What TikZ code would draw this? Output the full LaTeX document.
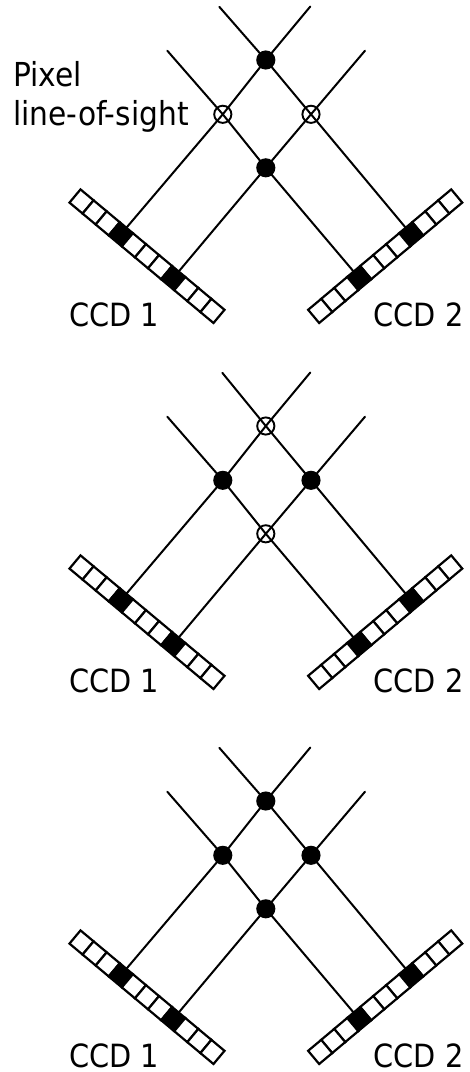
\documentclass[tikz,border=0pt]{standalone}
\usepackage{fontspec}
\setmainfont{DejaVu Sans Condensed}
\tikzset{
  cell/.style={draw=black,line width=2.2pt,fill=white,minimum width=17.06pt,minimum height=17.2pt,inner sep=0pt,outer sep=0pt},
  dark/.style={cell,fill=black},
  full/.style={circle,draw=black,fill=black,line width=1.9pt,minimum size=17.2pt,inner sep=0pt,outer sep=0pt},
  hollow/.style={circle,draw=black,line width=1.9pt,minimum size=17.2pt,inner sep=0pt,outer sep=0pt},
  sight/.style={draw=black,line width=2pt,line cap=round},
  lab/.style={font=\fontsize{32}{39}\selectfont,inner sep=0pt},
  note/.style={font=\fontsize{33}{39}\selectfont,inner sep=0pt,align=left}
}
% #1 prefix, #2 y shift, #3 top/bottom crossings, #4 side crossings, #5 x of the free end of the right-hand line
\newcommand{\ccdpanel}[5]{%
\begin{scope}[yshift=-#2pt,name prefix=#1-]
  \foreach \i in {0,...,10}{
    \pgfmathsetmacro{\tt}{(\i+0.5)/11}
    \ifnum\i=3 \def\st{dark}\else\ifnum\i=7 \def\st{dark}\else\def\st{cell}\fi\fi
    \node[\st,rotate=-39.9] (L\i) at ({75+144*\tt},{-196-120.4*\tt}) {};
    \node[\st,rotate=39.9] (R\i) at ({456.7-143*\tt},{-196-120.4*\tt}) {};
  }
  \coordinate (endA) at (310.3,-6.5);
  \coordinate (endB) at (365,-50.7);
  \coordinate (endC) at (#5,-6.8);
  \coordinate (endD) at (167.3,-50.7);
  \node[#3] (top) at (265.8,-60) {};
  \node[#3] (bot) at (265.8,-167.8) {};
  \node[#4] (lft) at (222.8,-114.3) {};
  \node[#4] (rgt) at (311,-114.3) {};
  \path[sight] (L3) -- (lft.center) -- (top.center) -- (endA);
  \path[sight] (L7) -- (bot.center) -- (rgt.center) -- (endB);
  \path[sight] (R3) -- (rgt.center) -- (top.center) -- (endC);
  \path[sight] (R7) -- (bot.center) -- (lft.center) -- (endD);
  \node[lab] (ccdl) at (114,-315) {CCD 1};
  \node[lab] (ccdr) at (418.5,-315) {CCD 2};
\end{scope}}
\begin{document}
\begin{tikzpicture}[x=1pt,y=1pt]
\useasboundingbox (0,0) rectangle (470,-1072);
\fill[white] (0,0) rectangle (470,-1072);
\ccdpanel{p}{0}{full}{hollow}{219.3}
\ccdpanel{q}{366}{hollow}{full}{222.3}
\ccdpanel{r}{741}{full}{full}{219.3}
\node[note,anchor=base west] (pix) at (13,-125) {Pixel\\line-of-sight};
\end{tikzpicture}
\end{document}
